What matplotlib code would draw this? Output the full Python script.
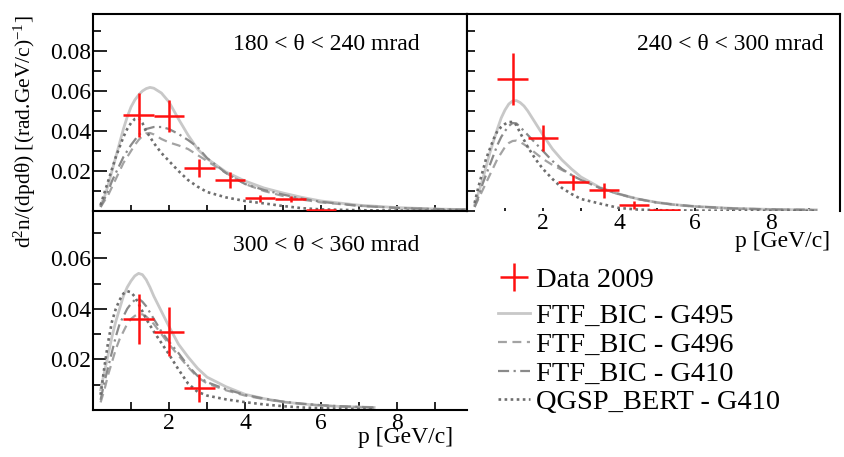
import matplotlib
matplotlib.use('Agg')
import matplotlib.pyplot as plt
from matplotlib.ticker import MultipleLocator, FixedLocator

plt.rcParams['font.family'] = ['Liberation Serif', 'DejaVu Serif']
plt.rcParams['mathtext.fontset'] = 'custom'
plt.rcParams['mathtext.rm'] = 'Liberation Serif'
plt.rcParams['mathtext.it'] = 'Liberation Serif:italic'

# ---- data points (bin centres, values, errors) ----
DATA_P_180 = [1.2, 2.0, 2.8, 3.6, 4.4, 5.2, 6.0]
DATA_Y_180 = [0.048, 0.0475, 0.0215, 0.0155, 0.0063, 0.0058, 0.0005]
DATA_E_180 = [0.0108, 0.0078, 0.0046, 0.0042, 0.0016, 0.0015, 0.0004]

DATA_P_240 = [1.2, 2.0, 2.8, 3.6, 4.4, 5.2]
DATA_Y_240 = [0.066, 0.0365, 0.0143, 0.0103, 0.003, 0.0003]
DATA_E_240 = [0.013, 0.0063, 0.0038, 0.0037, 0.0022, 0.0003]

DATA_P_300 = [1.2, 2.0, 2.8]
DATA_Y_300 = [0.0358, 0.031, 0.0088]
DATA_E_300 = [0.0099, 0.0097, 0.0055]

BIN_HALF = 0.4

# ---- simulation curves ----
P_180 = [0.2, 0.3, 0.4, 0.5, 0.6, 0.7, 0.8, 0.9, 1.0, 1.1, 1.2, 1.3, 1.4, 1.5, 1.6,
         1.8, 2.0, 2.25, 2.5, 2.75, 3.0, 3.5, 4.0, 4.5, 5.0, 5.5, 6.0, 7.0, 8.0, 9.0, 9.8]
G495_180 = [0.003, 0.007, 0.013, 0.020, 0.027, 0.034, 0.041, 0.047, 0.052, 0.0555,
            0.058, 0.060, 0.0612, 0.0618, 0.0614, 0.059, 0.0545, 0.046, 0.038, 0.031,
            0.0262, 0.0195, 0.015, 0.0115, 0.009, 0.0068, 0.0050, 0.0029, 0.0017,
            0.0010, 0.0007]
G496_180 = [0.002, 0.005, 0.008, 0.012, 0.016, 0.020, 0.024, 0.027, 0.030, 0.033,
            0.0355, 0.0375, 0.0388, 0.039, 0.0383, 0.036, 0.0343, 0.0328, 0.031, 0.028,
            0.025, 0.019, 0.0135, 0.0100, 0.0075, 0.0057, 0.0043, 0.0026, 0.0016,
            0.0010, 0.0007]
G410_180 = [0.002, 0.006, 0.010, 0.015, 0.019, 0.023, 0.027, 0.030, 0.033, 0.0355,
            0.038, 0.0395, 0.041, 0.0415, 0.042, 0.042, 0.041, 0.0385, 0.0355, 0.032,
            0.0265, 0.019, 0.0135, 0.0105, 0.0082, 0.0062, 0.0046, 0.0026, 0.0015,
            0.0010, 0.0007]
QGSP_180 = [0.003, 0.009, 0.015, 0.021, 0.027, 0.032, 0.037, 0.041, 0.044, 0.046,
            0.0465, 0.044, 0.040, 0.037, 0.034, 0.029, 0.025, 0.020, 0.0155, 0.0122,
            0.0095, 0.0068, 0.005, 0.0038, 0.0025, 0.0014, 0.0008, 0.0004, 0.0002,
            0.0001, 0.0001]

P_240 = [0.2, 0.3, 0.4, 0.5, 0.6, 0.7, 0.8, 0.9, 1.0, 1.1, 1.2, 1.3, 1.4, 1.5, 1.6,
         1.8, 2.0, 2.25, 2.5, 2.75, 3.0, 3.5, 4.0, 4.5, 5.0, 5.5, 6.0, 7.0, 8.0, 9.2]
G495_240 = [0.003, 0.009, 0.015, 0.022, 0.029, 0.035, 0.041, 0.0465, 0.0505, 0.0535,
            0.055, 0.0552, 0.0542, 0.0525, 0.050, 0.044, 0.038, 0.031, 0.0255, 0.021,
            0.017, 0.0117, 0.0085, 0.006, 0.0043, 0.0031, 0.0023, 0.0013, 0.0008, 0.0005]
G496_240 = [0.002, 0.006, 0.010, 0.014, 0.018, 0.022, 0.026, 0.029, 0.032, 0.034,
            0.035, 0.0352, 0.0345, 0.0333, 0.032, 0.029, 0.026, 0.023, 0.0205, 0.018,
            0.0155, 0.0115, 0.0083, 0.006, 0.0042, 0.003, 0.0022, 0.0012, 0.0008, 0.0005]
G410_240 = [0.002, 0.007, 0.013, 0.018, 0.023, 0.028, 0.033, 0.037, 0.040, 0.0425,
            0.044, 0.0438, 0.042, 0.040, 0.038, 0.034, 0.030, 0.025, 0.021, 0.018,
            0.0155, 0.0115, 0.0085, 0.006, 0.0042, 0.0031, 0.0023, 0.0013, 0.0008, 0.0005]
QGSP_240 = [0.004, 0.012, 0.019, 0.026, 0.031, 0.036, 0.040, 0.042, 0.0435, 0.0445,
            0.0445, 0.043, 0.039, 0.0355, 0.032, 0.026, 0.021, 0.016, 0.0115, 0.0085,
            0.006, 0.0037, 0.0015, 0.0007, 0.0004, 0.0003, 0.0002, 0.0001, 0.0001, 0.0001]

P_300 = [0.2, 0.3, 0.4, 0.5, 0.6, 0.7, 0.8, 0.9, 1.0, 1.1, 1.2, 1.3, 1.4, 1.5, 1.6,
         1.8, 2.0, 2.25, 2.5, 2.75, 3.0, 3.5, 4.0, 4.5, 5.0, 5.5, 6.0, 6.5, 7.4]
G495_300 = [0.008, 0.015, 0.022, 0.029, 0.035, 0.040, 0.045, 0.0485, 0.051, 0.053,
            0.054, 0.0535, 0.0515, 0.0485, 0.045, 0.039, 0.033, 0.026, 0.021, 0.0165,
            0.013, 0.0092, 0.0062, 0.0045, 0.0032, 0.0024, 0.0018, 0.0014, 0.0010]
G496_300 = [0.003, 0.008, 0.014, 0.019, 0.024, 0.028, 0.031, 0.034, 0.036, 0.0372,
            0.038, 0.0378, 0.037, 0.0355, 0.034, 0.030, 0.026, 0.0215, 0.017, 0.013,
            0.0105, 0.0078, 0.0057, 0.0043, 0.0032, 0.0024, 0.0018, 0.0014, 0.0009]
G410_300 = [0.004, 0.011, 0.017, 0.023, 0.029, 0.034, 0.037, 0.040, 0.042, 0.0435,
            0.044, 0.0428, 0.041, 0.0385, 0.036, 0.031, 0.027, 0.0225, 0.0175, 0.0135,
            0.011, 0.0082, 0.006, 0.0045, 0.0033, 0.0025, 0.0019, 0.0015, 0.0010]
QGSP_300 = [0.006, 0.017, 0.027, 0.035, 0.040, 0.0435, 0.046, 0.047, 0.0465, 0.0448,
            0.042, 0.039, 0.036, 0.0335, 0.031, 0.0265, 0.022, 0.016, 0.0105, 0.0072,
            0.0057, 0.0042, 0.0031, 0.0022, 0.0015, 0.0010, 0.0007, 0.0005, 0.0003]

LABELS = ['FTF_BIC - G495', 'FTF_BIC - G496', 'FTF_BIC - G410', 'QGSP_BERT - G410']

STYLES = [
    dict(color='#c8c8c8', lw=2.0, ls='-'),
    dict(color='#a3a3a3', lw=1.6, ls=(0, (4, 2.5))),
    dict(color='#8a8a8a', lw=1.6, ls=(0, (5, 2, 1, 2))),
    dict(color='#6e6e6e', lw=1.9, ls=(0, (1, 1.3))),
]

W, H = 844, 457
FS = 17


def box(left, top, right, bottom):
    return [left / W, 1 - bottom / H, (right - left) / W, (bottom - top) / H]


def draw_panel(ax, p, curves, dp, dy, de, title, title_xy):
    handles = []
    for y, st, lab in zip(curves, STYLES, LABELS):
        h, = ax.plot(p, y, label=lab, **st)
        handles.append(h)
    eb = ax.errorbar(dp, dy, xerr=BIN_HALF, yerr=de, fmt='none', ecolor='#ff1010',
                     elinewidth=1.8, capsize=0, label='Data 2009', zorder=5)
    ax.text(title_xy[0], title_xy[1], title, transform=ax.transAxes,
            fontsize=FS, ha='left', va='center')
    ax.xaxis.set_minor_locator(MultipleLocator(1))
    ax.yaxis.set_major_locator(FixedLocator([0.02, 0.04, 0.06, 0.08]))
    ax.yaxis.set_minor_locator(MultipleLocator(0.01))
    ax.tick_params(which='both', direction='in', labelsize=FS, width=1.2)
    for s in ax.spines.values():
        s.set_linewidth(1.5)
    return eb, handles


fig = plt.figure(figsize=(W / 100, H / 100), dpi=100)

# lower-left panel goes in first so the upper frame sits on top of it
ax_bl = fig.add_axes(box(93, 211, 467, 410))
ax_tl = fig.add_axes(box(93, 14, 467, 211))
ax_tr = fig.add_axes(box(467, 14, 840, 211))

draw_panel(ax_tl, P_180, [G495_180, G496_180, G410_180, QGSP_180],
           DATA_P_180, DATA_Y_180, DATA_E_180, '180 < θ < 240 mrad', (0.374, 0.845))
eb, mc_handles = draw_panel(ax_tr, P_240, [G495_240, G496_240, G410_240, QGSP_240],
                            DATA_P_240, DATA_Y_240, DATA_E_240,
                            '240 < θ < 300 mrad', (0.456, 0.845))
draw_panel(ax_bl, P_300, [G495_300, G496_300, G410_300, QGSP_300],
           DATA_P_300, DATA_Y_300, DATA_E_300, '300 < θ < 360 mrad', (0.374, 0.825))

ax_tl.set_xlim(0, 374 / 38)
ax_tl.set_ylim(0, 197 / 2000)
ax_tl.xaxis.set_major_locator(MultipleLocator(1))
ax_tl.tick_params(axis='x', which='both', length=4, labelbottom=False)
ax_tl.tick_params(axis='y', which='major', length=10, pad=1.5)
ax_tl.tick_params(axis='y', which='minor', length=5.5)
ax_tl.yaxis.set_major_formatter(plt.FormatStrFormatter('%.2f'))

ax_tr.set_xlim(0, 373 / 38)
ax_tr.set_ylim(0, 197 / 2000)
ax_tr.xaxis.set_major_locator(FixedLocator([2, 4, 6, 8]))
ax_tr.spines['bottom'].set_visible(False)
ax_tr.tick_params(axis='x', which='both', length=2, pad=1.5)
ax_tr.tick_params(axis='y', which='both', length=6, labelleft=False)

ax_bl.set_xlim(0, 374 / 38)
ax_bl.set_ylim(0, 199 / 2530)
ax_bl.yaxis.set_major_locator(FixedLocator([0.02, 0.04, 0.06]))
ax_bl.xaxis.set_major_locator(FixedLocator([2, 4, 6, 8]))
ax_bl.spines['top'].set_visible(False)
ax_bl.spines['right'].set_visible(False)
ax_bl.tick_params(axis='x', which='both', length=6, pad=2)
ax_bl.tick_params(axis='y', which='major', length=10, pad=1.5)
ax_bl.tick_params(axis='y', which='minor', length=5.5)
ax_bl.yaxis.set_major_formatter(plt.FormatStrFormatter('%.2f'))

fig.text(830 / W, 1 - 242 / H, 'p [GeV/c]', fontsize=FS, ha='right', va='center')
fig.text(453 / W, 1 - 437 / H, 'p [GeV/c]', fontsize=FS, ha='right', va='center')
fig.text(25 / W, 1 - 132 / H, 'd$^{2}$n/(dpdθ) [(rad.GeV/c)$^{-1}$]',
         fontsize=15.5, rotation=90, ha='center', va='center')

leg_kw = dict(loc='upper left', frameon=False, borderpad=0, borderaxespad=0,
              handlelength=1.12, handletextpad=0.2, fontsize=20.5)
fig.legend(handles=[eb], labels=['Data 2009'], bbox_to_anchor=(498 / W, 1 - 267 / H), **leg_kw)
fig.legend(handles=mc_handles, labels=LABELS, bbox_to_anchor=(498 / W, 1 - 303 / H),
           labelspacing=0.1, **leg_kw)

fig.savefig('out.png', dpi=100)
